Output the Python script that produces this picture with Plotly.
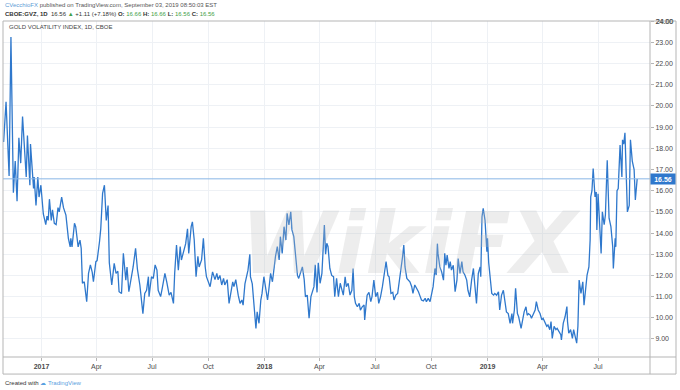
import plotly.graph_objects as go

dates = [
"2016-10-31","2016-11-04","2016-11-09","2016-11-12","2016-11-16","2016-11-19","2016-11-22","2016-11-25","2016-11-28","2016-12-01",
"2016-12-07","2016-12-09","2016-12-13","2016-12-14","2016-12-19","2016-12-20","2016-12-23","2016-12-26","2016-12-28","2016-12-31",
"2017-01-04","2017-01-08","2017-01-10","2017-01-12","2017-01-14","2017-01-17","2017-01-19","2017-01-22","2017-01-25","2017-01-28",
"2017-01-30","2017-02-03","2017-02-06","2017-02-10","2017-02-14","2017-02-17","2017-02-18","2017-02-20","2017-02-24","2017-02-26",
"2017-03-02","2017-03-05","2017-03-07","2017-03-09","2017-03-12","2017-03-16","2017-03-19","2017-03-22","2017-03-25","2017-03-27",
"2017-03-31","2017-04-02","2017-04-06","2017-04-08","2017-04-11","2017-04-14","2017-04-17","2017-04-20","2017-04-22","2017-04-26",
"2017-04-30","2017-05-03","2017-05-06","2017-05-08","2017-05-12","2017-05-15","2017-05-19","2017-05-21","2017-05-24","2017-05-29",
"2017-05-31","2017-06-04","2017-06-07","2017-06-11","2017-06-16","2017-06-19","2017-06-22","2017-06-25","2017-06-26","2017-06-30",
"2017-07-03","2017-07-06","2017-07-09","2017-07-11","2017-07-15","2017-07-18","2017-07-22","2017-07-25","2017-07-29","2017-08-01",
"2017-08-05","2017-08-07","2017-08-10","2017-08-13","2017-08-16","2017-08-18","2017-08-22","2017-08-25","2017-08-28","2017-08-30",
"2017-09-03","2017-09-05","2017-09-08","2017-09-11","2017-09-14","2017-09-16","2017-09-20","2017-09-23","2017-09-26","2017-09-28",
"2017-10-04","2017-10-08","2017-10-12","2017-10-15","2017-10-17","2017-10-20","2017-10-23","2017-10-26","2017-10-28","2017-11-01",
"2017-11-04","2017-11-07","2017-11-10","2017-11-12","2017-11-15","2017-11-19","2017-11-22","2017-11-25","2017-11-27","2017-11-30",
"2017-12-03","2017-12-05","2017-12-08","2017-12-09","2017-12-12","2017-12-15","2017-12-18","2017-12-20","2017-12-23","2017-12-26",
"2017-12-28","2017-12-31",
"2018-01-03","2018-01-06","2018-01-08","2018-01-11","2018-01-14","2018-01-16","2018-01-19","2018-01-22","2018-01-25","2018-01-27",
"2018-01-30","2018-02-02","2018-02-05","2018-02-07","2018-02-10","2018-02-13","2018-02-15","2018-02-18","2018-02-21","2018-02-24",
"2018-02-26","2018-03-01","2018-03-04","2018-03-07","2018-03-09","2018-03-12","2018-03-15","2018-03-18","2018-03-20","2018-03-23",
"2018-03-25","2018-03-28","2018-03-30","2018-04-02","2018-04-05","2018-04-07","2018-04-09","2018-04-11","2018-04-13","2018-04-15",
"2018-04-18","2018-04-21","2018-04-24","2018-04-26","2018-04-29","2018-05-02","2018-05-05","2018-05-07","2018-05-10","2018-05-13",
"2018-05-15","2018-05-18","2018-05-21","2018-05-24","2018-05-26","2018-05-28","2018-05-30","2018-06-02","2018-06-05","2018-06-07",
"2018-06-10","2018-06-13","2018-06-14","2018-06-16","2018-06-18","2018-06-21","2018-06-24","2018-06-26","2018-06-29","2018-07-02",
"2018-07-05","2018-07-07","2018-07-10","2018-07-13","2018-07-16","2018-07-19","2018-07-22","2018-07-24","2018-07-27","2018-07-30",
"2018-08-01","2018-08-04","2018-08-07","2018-08-10","2018-08-12","2018-08-15","2018-08-17","2018-08-19","2018-08-22","2018-08-24",
"2018-08-27","2018-08-30","2018-09-01","2018-09-04","2018-09-07","2018-09-10","2018-09-12","2018-09-15","2018-09-18","2018-09-21",
"2018-09-23","2018-09-26","2018-09-29","2018-10-02","2018-10-04","2018-10-07","2018-10-09","2018-10-11","2018-10-12","2018-10-15",
"2018-10-18","2018-10-21","2018-10-23","2018-10-25","2018-10-27","2018-10-30","2018-11-01","2018-11-03","2018-11-06","2018-11-09",
"2018-11-12","2018-11-14","2018-11-17","2018-11-20","2018-11-22","2018-11-25","2018-11-28","2018-11-30","2018-12-03","2018-12-06",
"2018-12-09","2018-12-11","2018-12-14","2018-12-17","2018-12-20","2018-12-21","2018-12-23","2018-12-25","2018-12-28","2018-12-31",
"2019-01-01","2019-01-03","2019-01-06","2019-01-08","2019-01-11","2019-01-13","2019-01-16","2019-01-19","2019-01-21","2019-01-24",
"2019-01-27","2019-01-30","2019-02-01","2019-02-04","2019-02-07","2019-02-10","2019-02-11","2019-02-14","2019-02-16","2019-02-19",
"2019-02-21","2019-02-25","2019-02-28","2019-03-02","2019-03-05","2019-03-07","2019-03-09","2019-03-12","2019-03-14","2019-03-17",
"2019-03-20","2019-03-22","2019-03-25","2019-03-28","2019-03-31","2019-04-02","2019-04-05","2019-04-08","2019-04-10","2019-04-13",
"2019-04-15","2019-04-17","2019-04-20","2019-04-23","2019-04-25","2019-04-28","2019-05-01","2019-05-02","2019-05-05","2019-05-08",
"2019-05-11","2019-05-12","2019-05-14","2019-05-17","2019-05-20","2019-05-22","2019-05-25","2019-05-27","2019-05-29","2019-05-31",
"2019-06-03","2019-06-06","2019-06-08","2019-06-11","2019-06-13","2019-06-16","2019-06-18","2019-06-19","2019-06-21","2019-06-23",
"2019-06-26","2019-06-28","2019-06-29","2019-07-01","2019-07-04","2019-07-06","2019-07-08","2019-07-11","2019-07-13","2019-07-16",
"2019-07-19","2019-07-22","2019-07-25","2019-07-26","2019-07-29","2019-07-30","2019-08-01","2019-08-03","2019-08-06","2019-08-09",
"2019-08-10","2019-08-12","2019-08-14","2019-08-16","2019-08-18","2019-08-21","2019-08-23","2019-08-26","2019-08-29","2019-08-31",
"2019-09-03",
]

gvz = [
18.3,20.2,16.7,23.26,15.9,17.4,15.5,18.5,17.3,19.5,
16.65,18.6,16.26,18.2,16.1,16.65,15.3,16.65,15.7,16.26,
14.9,14.4,14.8,14.6,15.6,14.6,15.1,14.46,14.4,15.2,
15.0,15.7,15.2,14.85,13.75,13.35,13.75,13.35,14.46,14.3,
13.35,13.67,13.28,11.63,11.7,10.76,12.1,12.5,12.16,11.7,
12.65,12.7,13.6,14.2,15.87,16.26,14.6,15.3,12.6,11.55,
12.57,12.1,12.2,11.23,11.15,13.04,11.78,12.4,11.23,12.0,
12.4,13.28,12.3,11.55,10.2,11.15,11.3,11.94,11.0,11.94,
11.86,12.5,12.25,11.3,11.0,11.45,12.1,11.7,11.07,11.2,
10.68,12.1,13.43,12.25,13.36,12.73,13.2,13.5,14.2,13.04,
14.3,14.53,13.67,11.94,12.9,12.4,12.73,13.75,12.4,11.94,
11.47,12.17,11.8,12.1,11.8,12.0,11.55,11.86,11.55,11.8,
10.68,11.15,11.7,11.47,11.8,11.07,10.68,10.84,10.6,11.6,
11.94,12.25,13.0,11.94,11.6,10.52,9.5,10.28,9.74,10.84,
11.15,11.94,
11.47,10.84,11.3,12.1,11.7,12.25,12.9,13.36,12.73,13.83,
13.04,14.3,13.67,14.93,14.38,15.0,14.15,13.83,13.0,12.0,
11.86,12.1,12.4,11.8,11.0,11.07,9.98,11.0,11.2,11.47,
12.5,11.2,12.6,11.63,12.1,13.2,14.38,13.0,13.52,13.36,
12.33,12.0,11.94,11.0,11.86,11.0,11.63,11.4,11.07,11.94,
11.47,11.63,11.07,11.3,12.33,11.0,10.68,10.52,10.68,10.36,
10.52,10.6,9.9,10.52,11.07,11.2,10.76,11.0,11.78,11.0,
11.2,10.68,11.0,11.47,12.0,12.65,12.0,11.94,11.15,11.2,
10.84,11.07,11.15,11.78,12.0,12.88,13.43,12.4,11.86,11.78,
11.7,11.47,11.15,11.55,11.4,11.23,11.07,10.84,10.8,10.92,
10.76,10.92,10.76,11.15,11.47,12.33,12.02,13.5,13.04,12.4,
12.17,11.78,13.04,12.48,12.96,12.33,12.65,12.25,12.48,11.23,
11.78,12.8,12.1,12.65,12.17,12.02,11.78,11.3,10.99,11.78,
12.33,11.63,10.68,12.1,12.4,11.94,14.77,15.17,14.6,13.12,
13.75,12.6,11.63,11.15,11.07,11.15,11.07,11.23,10.37,11.07,
11.3,10.68,10.28,10.2,9.74,10.2,9.74,10.37,11.39,10.2,
10.05,9.5,10.12,10.28,10.52,10.12,10.2,10.13,9.98,10.2,
10.37,10.76,10.37,10.2,9.9,9.98,9.74,9.6,9.66,9.44,
9.82,9.03,9.6,9.44,9.5,9.35,9.2,8.95,9.74,10.05,
10.53,9.82,9.27,9.44,9.03,9.44,9.12,8.8,9.6,11.78,
11.15,11.7,10.6,11.7,12.02,12.4,13.67,15.71,16.0,17.05,
15.71,15.94,14.14,15.86,13.67,13.04,15.0,14.4,14.85,17.44,
14.7,14.3,13.35,12.33,13.75,13.35,16.0,16.1,18.15,16.65,
18.4,18.2,18.73,16.8,15.0,15.3,18.4,17.4,17.0,15.56,
16.56,
]

last_value = 16.56
x_tick_vals = ["2017-01-01","2017-04-01","2017-07-01","2017-10-01","2018-01-01","2018-04-01",
               "2018-07-01","2018-10-01","2019-01-01","2019-04-01","2019-07-01"]
x_tick_text = ["<b>2017</b>","Apr","Jul","Oct","<b>2018</b>","Apr","Jul","Oct","<b>2019</b>","Apr","Jul"]
y_tick_vals = [9,10,11,12,13,14,15,16,17,18,19,20,21,22,23,24]
y_tick_text = [f"{v:.2f}" for v in y_tick_vals]

LINE = "#2f78cc"
FONT = "Liberation Sans"
AXC = "#4a4a4a"
BORDER = "#b5b5b5"

fig = go.Figure()
fig.add_trace(go.Scatter(x=dates, y=gvz, mode="lines",
                         line=dict(color=LINE, width=1.3), hoverinfo="skip"))

fig.update_layout(
    width=680, height=390,
    margin=dict(l=3, r=30, t=21, b=33),
    paper_bgcolor="white", plot_bgcolor="white",
    showlegend=False,
    font=dict(family=FONT, size=7, color=AXC),
    xaxis=dict(range=["2016-10-30", "2019-09-24"], tickvals=x_tick_vals, ticktext=x_tick_text,
               showgrid=True, gridcolor="#eef1f5", gridwidth=1, zeroline=False,
               ticks="outside", ticklen=3, tickcolor=BORDER, showline=False,
               tickfont=dict(family=FONT, size=7, color=AXC)),
    yaxis=dict(range=[8.15, 24.01], side="right", tickvals=y_tick_vals, ticktext=y_tick_text,
               showgrid=True, gridcolor="#eef1f5", gridwidth=1, zeroline=False,
               ticks="outside", ticklen=3, tickcolor=BORDER, showline=False,
               tickfont=dict(family=FONT, size=7, color=AXC)),
)

# last price line
fig.add_shape(type="line", xref="paper", yref="y", x0=0, x1=1, y0=last_value, y1=last_value,
              line=dict(color="#8ab6e6", width=1))

# frame: outer box, right axis line, bottom axis line
ybot = -17 / 335
xright = 673 / 647
fig.add_shape(type="rect", xref="paper", yref="paper", x0=0, x1=xright, y0=ybot, y1=1,
              line=dict(color=BORDER, width=1), fillcolor="rgba(0,0,0,0)")
fig.add_shape(type="line", xref="paper", yref="paper", x0=1, x1=1, y0=ybot, y1=1,
              line=dict(color=BORDER, width=1))
fig.add_shape(type="line", xref="paper", yref="paper", x0=0, x1=xright, y0=0, y1=0,
              line=dict(color=BORDER, width=1))

# watermark
fig.add_annotation(xref="paper", yref="paper", x=0.63, y=0.34, xanchor="center", yanchor="middle",
                   text="<i><b>WikiFX</b></i>",
                   showarrow=False, font=dict(family="DejaVu Sans", size=86, color="rgba(190,190,190,0.28)"))

# top axis label (partly hidden in the original)
fig.add_annotation(xref="paper", yref="paper", x=1.0, y=1.0, xanchor="left", yanchor="middle",
                   xshift=4, text="24.00", showarrow=False,
                   font=dict(family=FONT, size=7, color=AXC))

# price label on axis
fig.add_annotation(xref="paper", yref="y", x=1.0, y=last_value, xanchor="left", yanchor="middle",
                   text="<b>16.56</b>", showarrow=False, bgcolor="#2f78cc",
                   width=24, height=10, borderpad=0,
                   font=dict(family=FONT, size=7, color="white"))

# header texts
fig.add_annotation(xref="paper", yref="paper", x=0, y=(357 - 6) / 335, xanchor="left", yanchor="middle",
                   showarrow=False, align="left",
                   text='<span style="color:#5b9bd5">CVecchioFX</span> published on TradingView.com, September 03, 2019 08:50:03 EST',
                   font=dict(family=FONT, size=6, color="#555555"))
G = "#43a047"
fig.add_annotation(xref="paper", yref="paper", x=0, y=(357 - 15) / 335, xanchor="left", yanchor="middle",
                   showarrow=False, align="left",
                   text=(f'<b>CBOE:GVZ, 1D</b>  16.56 <span style="color:{G}">▲</span> +1.11 (+7.18%) '
                         f'<b>O:</b> <span style="color:{G}">16.66</span> <b>H:</b> <span style="color:{G}">16.66</span> '
                         f'<b>L:</b> <span style="color:{G}">16.56</span> <b>C:</b> <span style="color:{G}">16.56</span>'),
                   font=dict(family=FONT, size=6, color="#333333"))
fig.add_annotation(xref="paper", yref="paper", x=4 / 647, y=(357 - 28) / 335, xanchor="left", yanchor="middle",
                   showarrow=False, text="GOLD VOLATILITY INDEX, 1D, CBOE",
                   font=dict(family=FONT, size=6, color="#444444"))
fig.add_annotation(xref="paper", yref="paper", x=0, y=(357 - 383) / 335, xanchor="left", yanchor="middle",
                   showarrow=False,
                   text='Created with <span style="color:#5aa0e0">☁ TradingView</span>',
                   font=dict(family=FONT, size=6, color="#333333"))

fig.write_html("out.html", config={"displayModeBar": False},
               post_script="document.body.style.margin='0';")
